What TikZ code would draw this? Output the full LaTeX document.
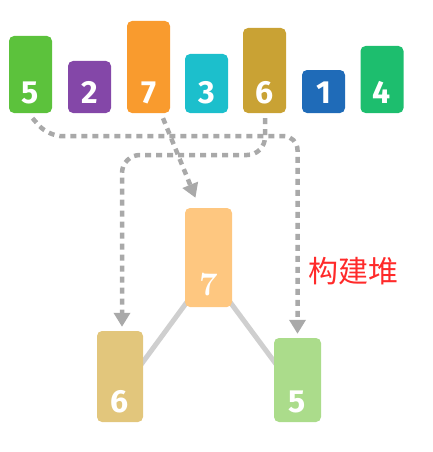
\documentclass[tikz,border=0pt]{standalone}
\usepackage{fontspec}
\newfontfamily\numfont{Fira Sans}
\newfontfamily\cjk{Noto Sans CJK SC}
\usetikzlibrary{arrows.meta,calc}
\definecolor{c5}{HTML}{5CC23C}
\definecolor{c2}{HTML}{8447A8}
\definecolor{c7}{HTML}{F99B2E}
\definecolor{c3}{HTML}{1CBFCC}
\definecolor{c6}{HTML}{C9A234}
\definecolor{c1}{HTML}{1F6BB8}
\definecolor{c4}{HTML}{1DBE6E}
\definecolor{t7}{HTML}{FEC780}
\definecolor{t6}{HTML}{E2C67C}
\definecolor{t5}{HTML}{ABDC8B}
\definecolor{dashgray}{HTML}{A9A9A9}
\definecolor{edgegray}{HTML}{CFCFCF}
\definecolor{redtext}{HTML}{FF2A2A}
\tikzset{
  bar/.style={rectangle, rounded corners=5pt, draw=none, minimum width=43pt, inner sep=0pt},
  num/.style={text=white, font=\numfont\bfseries\fontsize{32}{32}\selectfont, inner sep=0pt},
  numserif/.style={text=white, font=\rmfamily\bfseries\fontsize{33}{33}\selectfont, inner sep=0pt},
  dasharrow/.style={draw=dashgray, line width=4.5pt, dash pattern=on 6pt off 5pt, -{Triangle[width=16pt,length=14pt]}, shorten >=4pt},
  edge/.style={draw=edgegray, line width=5pt},
}
\begin{document}
\begin{tikzpicture}[x=1pt,y=-1pt]
\useasboundingbox (0,0) rectangle (432,452);
% top row
\node[bar, fill=c5, minimum height=77pt] (b5) at (30.5,74.5) {};
\node[bar, fill=c2, minimum height=52pt] (b2) at (89.5,87) {};
\node[bar, fill=c7, minimum height=92pt] (b7) at (148.5,67) {};
\node[bar, fill=c3, minimum height=59pt] (b3) at (206.5,83.5) {};
\node[bar, fill=c6, minimum height=85pt] (b6) at (264.5,70.5) {};
\node[bar, fill=c1, minimum height=43pt] (b1) at (323.5,91.5) {};
\node[bar, fill=c4, minimum height=67pt] (b4) at (382,79.5) {};
\foreach \n/\v in {b5/5,b2/2,b7/7,b3/3,b6/6,b1/1,b4/4}
  \node[num] (l\n) at (\n.center |- 0,92.5) {\v};
\coordinate (h1) at (0,136);
\coordinate (h2) at (0,155);
% tree edges (drawn first, nodes on top)
\coordinate (n7c) at (208.5,257.5);
\coordinate (n6c) at (120,376.5);
\coordinate (n5c) at (297.5,380);
\draw[edge] ($(n7c)+(-21.5,44.5)$) -- ($(n6c)+(20,-10.5)$);
\draw[edge] ($(n7c)+(21.5,44.5)$) -- ($(n5c)+(-20.5,-14.6)$);
\node[bar, fill=t7, minimum width=47pt, minimum height=99pt] (n7) at (n7c) {};
\node[bar, fill=t6, minimum width=46pt, minimum height=91pt] (n6) at (n6c) {};
\node[bar, fill=t5, minimum width=47pt, minimum height=84pt] (n5) at (n5c) {};
\node[numserif] (ln7) at (n7.center |- 0,284.5) {7};
\node[num] (ln6) at (n6.center |- 0,402) {6};
\node[num] (ln5) at (n5.center |- 0,402) {5};
% dashed connectors
\draw[dasharrow, rounded corners=14pt] ($(b5.south)+(2,5)$) -- ++(16,18) -- (n5.north |- h1) -- (n5.north);
\draw[dasharrow, rounded corners=18pt] ($(b6.south)+(0.5,5)$) -- ($(b6.south |- h2)+(0.5,0)$) -- ($(n6.north |- h2)+(2,0)$) -- ($(n6.north)+(2,0)$);
\draw[dasharrow, shorten >=0pt] ($(b7.south)+(14.5,5)$) -- ($(n7.north)+(-13,-10)$);
% label
\node[text=redtext, font=\cjk\fontsize{30}{30}\selectfont, inner sep=0pt] (lbl) at (353,271) {构建堆};
\end{tikzpicture}
\end{document}
